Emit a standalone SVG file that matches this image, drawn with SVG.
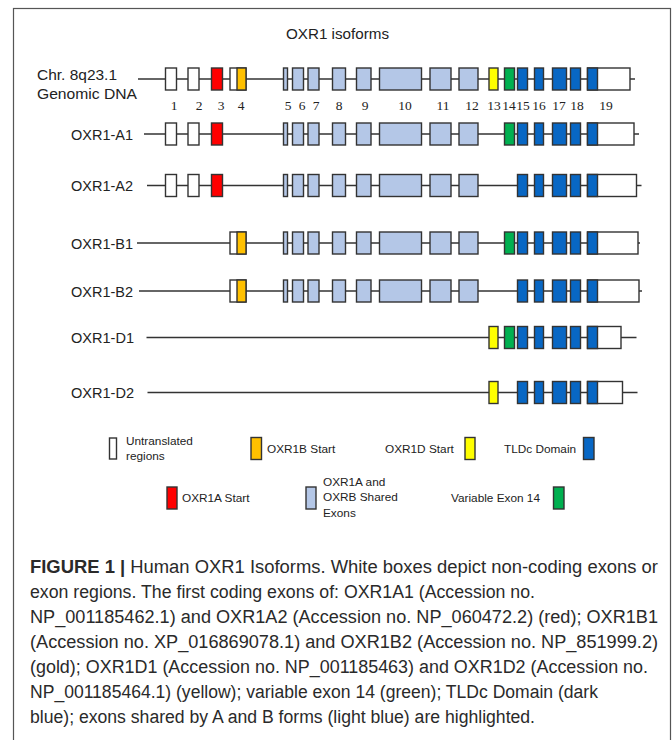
<svg xmlns="http://www.w3.org/2000/svg" width="672" height="740" viewBox="0 0 672 740">
<defs>
<style>
.bg{fill:#ffffff}
.frame{fill:none;stroke:#555;stroke-width:1.2}
.intron{stroke:#333;stroke-width:1.5;fill:none}
rect.ex{stroke:#333;stroke-width:1.4}
.u{fill:#ffffff}
.r{fill:#ff0000}
.g{fill:#ffc000}
.lb{fill:#b4c7e7}
.y{fill:#ffff00}
.gr{fill:#00b050}
.b{fill:#0867c4}
.lab{font-family:"Liberation Sans",Arial,sans-serif;font-size:15.5px;fill:#222}
.num{font-family:"Liberation Serif","Times New Roman",serif;font-size:13.5px;fill:#222;text-anchor:middle}
.leg{font-family:"Liberation Sans",Arial,sans-serif;font-size:11.8px;fill:#222}
.cap{font-family:"Liberation Sans",Arial,sans-serif;font-size:18px;fill:#2a2a2a}
.capb{font-weight:bold}
</style>
</defs>
<rect class="bg" x="0" y="0" width="672" height="740"/>
<rect class="frame" x="13.5" y="8.5" width="657" height="760"/>
<text class="lab" x="286" y="39" textLength="103" lengthAdjust="spacingAndGlyphs">OXR1 isoforms</text>

<g id="connectors">
<line class="intron" x1="138" y1="79" x2="635" y2="79"/>
<line class="intron" x1="144" y1="134" x2="639" y2="134"/>
<line class="intron" x1="147" y1="185.5" x2="641.5" y2="185.5"/>
<line class="intron" x1="137" y1="243" x2="640" y2="243"/>
<line class="intron" x1="139" y1="291" x2="642" y2="291"/>
<line class="intron" x1="146.5" y1="337.5" x2="636.5" y2="337.5"/>
<line class="intron" x1="147.5" y1="392.5" x2="637.5" y2="392.5"/>
</g>

<g id="genomic">
<text class="lab" x="37" y="80" textLength="80" lengthAdjust="spacingAndGlyphs">Chr. 8q23.1</text>
<text class="lab" x="37" y="99" textLength="100" lengthAdjust="spacingAndGlyphs">Genomic DNA</text>
<g transform="translate(0,68)">
<rect class="ex u" x="165.5" y="0" width="11" height="22"/>
<rect class="ex u" x="188" y="0" width="11" height="22"/>
<rect class="ex r" x="211.5" y="0" width="11" height="22"/>
<rect class="ex u" x="230" y="0" width="16" height="22"/>
<rect class="ex g" x="237" y="0" width="9" height="22"/>
<rect class="ex lb" x="283.5" y="0" width="4" height="22"/>
<rect class="ex lb" x="292.5" y="0" width="11" height="22"/>
<rect class="ex lb" x="308" y="0" width="11" height="22"/>
<rect class="ex lb" x="332.5" y="0" width="13" height="22"/>
<rect class="ex lb" x="356.5" y="0" width="14.5" height="22"/>
<rect class="ex lb" x="379.5" y="0" width="42" height="22"/>
<rect class="ex lb" x="430" y="0" width="21" height="22"/>
<rect class="ex lb" x="459" y="0" width="19" height="22"/>
<rect class="ex y" x="489" y="0" width="9" height="22"/>
<rect class="ex gr" x="504.5" y="0" width="10" height="22"/>
<rect class="ex b" x="517.5" y="0" width="10" height="22"/>
<rect class="ex b" x="534.5" y="0" width="9" height="22"/>
<rect class="ex b" x="552.5" y="0" width="14" height="22"/>
<rect class="ex b" x="570.5" y="0" width="10" height="22"/>
<rect class="ex u" x="587.5" y="0" width="42.5" height="22"/>
<rect class="ex b" x="587.5" y="0" width="10" height="22"/>
</g>
<text class="num" x="174" y="110">1</text>
<text class="num" x="199" y="110">2</text>
<text class="num" x="221" y="110">3</text>
<text class="num" x="241" y="110">4</text>
<text class="num" x="288" y="110">5</text>
<text class="num" x="302" y="110">6</text>
<text class="num" x="316" y="110">7</text>
<text class="num" x="339" y="110">8</text>
<text class="num" x="365" y="110">9</text>
<text class="num" x="405" y="110">10</text>
<text class="num" x="443" y="110">11</text>
<text class="num" x="472" y="110">12</text>
<text class="num" x="494" y="110">13</text>
<text class="num" x="509" y="110">14</text>
<text class="num" x="523" y="110">15</text>
<text class="num" x="539" y="110">16</text>
<text class="num" x="559" y="110">17</text>
<text class="num" x="577" y="110">18</text>
<text class="num" x="606" y="110">19</text>
</g>

<g id="oxr1-a1">
<text class="lab" x="71" y="139.5" textLength="62" lengthAdjust="spacingAndGlyphs">OXR1-A1</text>
<g transform="translate(0,123)">
<rect class="ex u" x="165.5" y="0" width="11" height="22"/>
<rect class="ex u" x="188" y="0" width="11" height="22"/>
<rect class="ex r" x="211.5" y="0" width="11" height="22"/>
<rect class="ex lb" x="283.5" y="0" width="4" height="22"/>
<rect class="ex lb" x="292.5" y="0" width="11" height="22"/>
<rect class="ex lb" x="308" y="0" width="11" height="22"/>
<rect class="ex lb" x="332.5" y="0" width="13" height="22"/>
<rect class="ex lb" x="356.5" y="0" width="14.5" height="22"/>
<rect class="ex lb" x="379.5" y="0" width="42" height="22"/>
<rect class="ex lb" x="430" y="0" width="21" height="22"/>
<rect class="ex lb" x="459" y="0" width="19" height="22"/>
<rect class="ex gr" x="504.5" y="0" width="10" height="22"/>
<rect class="ex b" x="517.5" y="0" width="10" height="22"/>
<rect class="ex b" x="534.5" y="0" width="9" height="22"/>
<rect class="ex b" x="552.5" y="0" width="14" height="22"/>
<rect class="ex b" x="570.5" y="0" width="10" height="22"/>
<rect class="ex u" x="587.5" y="0" width="46.5" height="22"/>
<rect class="ex b" x="587.5" y="0" width="10" height="22"/>
</g>
</g>

<g id="oxr1-a2">
<text class="lab" x="71" y="191" textLength="62" lengthAdjust="spacingAndGlyphs">OXR1-A2</text>
<g transform="translate(0,174.5)">
<rect class="ex u" x="165.5" y="0" width="11" height="22"/>
<rect class="ex u" x="188" y="0" width="11" height="22"/>
<rect class="ex r" x="211.5" y="0" width="11" height="22"/>
<rect class="ex lb" x="283.5" y="0" width="4" height="22"/>
<rect class="ex lb" x="292.5" y="0" width="11" height="22"/>
<rect class="ex lb" x="308" y="0" width="11" height="22"/>
<rect class="ex lb" x="332.5" y="0" width="13" height="22"/>
<rect class="ex lb" x="356.5" y="0" width="14.5" height="22"/>
<rect class="ex lb" x="379.5" y="0" width="42" height="22"/>
<rect class="ex lb" x="430" y="0" width="21" height="22"/>
<rect class="ex lb" x="459" y="0" width="19" height="22"/>
<rect class="ex b" x="517.5" y="0" width="10" height="22"/>
<rect class="ex b" x="534.5" y="0" width="9" height="22"/>
<rect class="ex b" x="552.5" y="0" width="14" height="22"/>
<rect class="ex b" x="570.5" y="0" width="10" height="22"/>
<rect class="ex u" x="587.5" y="0" width="49" height="22"/>
<rect class="ex b" x="587.5" y="0" width="10" height="22"/>
</g>
</g>

<g id="oxr1-b1">
<text class="lab" x="71" y="248.5" textLength="62" lengthAdjust="spacingAndGlyphs">OXR1-B1</text>
<g transform="translate(0,232)">
<rect class="ex u" x="230" y="0" width="16" height="22"/>
<rect class="ex g" x="237" y="0" width="9" height="22"/>
<rect class="ex lb" x="283.5" y="0" width="4" height="22"/>
<rect class="ex lb" x="292.5" y="0" width="11" height="22"/>
<rect class="ex lb" x="308" y="0" width="11" height="22"/>
<rect class="ex lb" x="332.5" y="0" width="13" height="22"/>
<rect class="ex lb" x="356.5" y="0" width="14.5" height="22"/>
<rect class="ex lb" x="379.5" y="0" width="42" height="22"/>
<rect class="ex lb" x="430" y="0" width="21" height="22"/>
<rect class="ex lb" x="459" y="0" width="19" height="22"/>
<rect class="ex gr" x="504.5" y="0" width="10" height="22"/>
<rect class="ex b" x="517.5" y="0" width="10" height="22"/>
<rect class="ex b" x="534.5" y="0" width="9" height="22"/>
<rect class="ex b" x="552.5" y="0" width="14" height="22"/>
<rect class="ex b" x="570.5" y="0" width="10" height="22"/>
<rect class="ex u" x="587.5" y="0" width="50.5" height="22"/>
<rect class="ex b" x="587.5" y="0" width="10" height="22"/>
</g>
</g>

<g id="oxr1-b2">
<text class="lab" x="71" y="296.5" textLength="62" lengthAdjust="spacingAndGlyphs">OXR1-B2</text>
<g transform="translate(0,280)">
<rect class="ex u" x="230" y="0" width="16" height="22"/>
<rect class="ex g" x="237" y="0" width="9" height="22"/>
<rect class="ex lb" x="283.5" y="0" width="4" height="22"/>
<rect class="ex lb" x="292.5" y="0" width="11" height="22"/>
<rect class="ex lb" x="308" y="0" width="11" height="22"/>
<rect class="ex lb" x="332.5" y="0" width="13" height="22"/>
<rect class="ex lb" x="356.5" y="0" width="14.5" height="22"/>
<rect class="ex lb" x="379.5" y="0" width="42" height="22"/>
<rect class="ex lb" x="430" y="0" width="21" height="22"/>
<rect class="ex lb" x="459" y="0" width="19" height="22"/>
<rect class="ex b" x="517.5" y="0" width="10" height="22"/>
<rect class="ex b" x="534.5" y="0" width="9" height="22"/>
<rect class="ex b" x="552.5" y="0" width="14" height="22"/>
<rect class="ex b" x="570.5" y="0" width="10" height="22"/>
<rect class="ex u" x="587.5" y="0" width="51.5" height="22"/>
<rect class="ex b" x="587.5" y="0" width="10" height="22"/>
</g>
</g>

<g id="oxr1-d1">
<text class="lab" x="71" y="343" textLength="63" lengthAdjust="spacingAndGlyphs">OXR1-D1</text>
<g transform="translate(0,326.5)">
<rect class="ex y" x="489" y="0" width="9" height="22"/>
<rect class="ex gr" x="504.5" y="0" width="10" height="22"/>
<rect class="ex b" x="517.5" y="0" width="10" height="22"/>
<rect class="ex b" x="534.5" y="0" width="9" height="22"/>
<rect class="ex b" x="552.5" y="0" width="14" height="22"/>
<rect class="ex b" x="570.5" y="0" width="10" height="22"/>
<rect class="ex u" x="587.5" y="0" width="33.5" height="22"/>
<rect class="ex b" x="587.5" y="0" width="10" height="22"/>
</g>
</g>

<g id="oxr1-d2">
<text class="lab" x="71" y="398" textLength="63" lengthAdjust="spacingAndGlyphs">OXR1-D2</text>
<g transform="translate(0,381.5)">
<rect class="ex y" x="489" y="0" width="9" height="22"/>
<rect class="ex b" x="517.5" y="0" width="10" height="22"/>
<rect class="ex b" x="534.5" y="0" width="9" height="22"/>
<rect class="ex b" x="552.5" y="0" width="14" height="22"/>
<rect class="ex b" x="570.5" y="0" width="10" height="22"/>
<rect class="ex u" x="587.5" y="0" width="35" height="22"/>
<rect class="ex b" x="587.5" y="0" width="10" height="22"/>
</g>
</g>

<g id="legend">
<rect class="ex u" x="109.5" y="438" width="7" height="21"/>
<text class="leg" x="126" y="445">Untranslated</text>
<text class="leg" x="126" y="459.5">regions</text>
<rect class="ex g" x="251" y="437.5" width="10.5" height="22"/>
<text class="leg" x="267" y="452.5">OXR1B Start</text>
<text class="leg" x="385" y="452.5">OXR1D Start</text>
<rect class="ex y" x="465" y="437.5" width="10" height="22"/>
<text class="leg" x="504" y="452.5">TLDc Domain</text>
<rect class="ex b" x="583.5" y="437.5" width="10.5" height="22"/>
<rect class="ex r" x="167" y="487" width="10" height="22"/>
<text class="leg" x="182" y="501.5">OXR1A Start</text>
<rect class="ex lb" x="306" y="487" width="10" height="22"/>
<text class="leg" x="323" y="485.5">OXR1A and</text>
<text class="leg" x="323" y="501">OXRB Shared</text>
<text class="leg" x="323" y="516.5">Exons</text>
<text class="leg" x="451" y="501.5">Variable Exon 14</text>
<rect class="ex gr" x="553.5" y="487" width="10.5" height="22"/>
</g>

<g id="caption">
<text class="cap" x="30" y="573" textLength="628" lengthAdjust="spacingAndGlyphs"><tspan class="capb">FIGURE 1 |</tspan> Human OXR1 Isoforms. White boxes depict non-coding exons or</text>
<text class="cap" x="30" y="598" textLength="505" lengthAdjust="spacingAndGlyphs">exon regions. The first coding exons of: OXR1A1 (Accession no.</text>
<text class="cap" x="30" y="623" textLength="628" lengthAdjust="spacingAndGlyphs">NP_001185462.1) and OXR1A2 (Accession no. NP_060472.2) (red); OXR1B1</text>
<text class="cap" x="30" y="648" textLength="628" lengthAdjust="spacingAndGlyphs">(Accession no. XP_016869078.1) and OXR1B2 (Accession no. NP_851999.2)</text>
<text class="cap" x="30" y="673" textLength="618" lengthAdjust="spacingAndGlyphs">(gold); OXR1D1 (Accession no. NP_001185463) and OXR1D2 (Accession no.</text>
<text class="cap" x="30" y="698" textLength="568" lengthAdjust="spacingAndGlyphs">NP_001185464.1) (yellow); variable exon 14 (green); TLDc Domain (dark</text>
<text class="cap" x="30" y="723" textLength="505" lengthAdjust="spacingAndGlyphs">blue); exons shared by A and B forms (light blue) are highlighted.</text>
</g>
</svg>
